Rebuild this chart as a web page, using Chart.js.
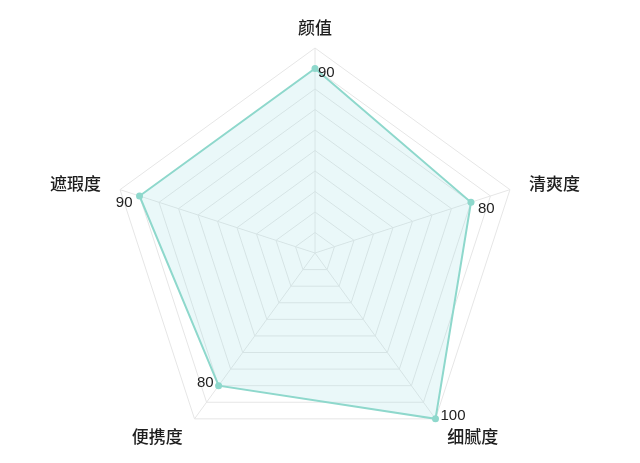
<!DOCTYPE html>
<html lang="zh">
<head>
    <meta charset="UTF-8">
    <title>雷达图</title>
    <script src="https://cdn.jsdelivr.net/npm/chart.js@4.4.1/dist/chart.umd.min.js"></script>
    <style>
        html, body { margin: 0; padding: 0; background: #fff; }
        #radar { display: block; }
    </style>
</head>
<body>
    <canvas id="radar" width="640" height="463"></canvas>
    <script>
        // chart data
        const categories = ["颜值", "清爽度", "细腻度", "便携度", "遮瑕度"];
        const scores = [90, 80, 100, 80, 90];
        const scaleMax = 100;
        const scaleStep = 10;

        const lineColor = "rgb(142, 216, 204)";
        const fillColor = "rgba(150, 220, 225, 0.2)";
        const gridColor = "#e6e6e6";

        // draws the axis names and the value next to each point
        const radarLabels = {
            id: "radarLabels",
            afterDatasetsDraw(chart) {
                const ctx = chart.ctx;
                const scale = chart.scales.r;
                const cx = scale.xCenter;
                const cy = scale.yCenter;
                ctx.save();

                // axis names
                ctx.font = "500 17px 'Noto Sans CJK SC', sans-serif";
                ctx.fillStyle = "#1e1e1e";
                ctx.textBaseline = "middle";
                categories.forEach((name, i) => {
                    const p = scale.getPointPosition(i, scale.drawingArea + 20);
                    let dy = 0;
                    if (Math.abs(p.x - cx) < 1) {
                        ctx.textAlign = "center";
                    } else {
                        ctx.textAlign = p.x > cx ? "left" : "right";
                        if (p.y > cy) dy = 2;
                    }
                    ctx.fillText(name, p.x, p.y + dy);
                });

                // values
                ctx.font = "15px 'Liberation Sans', Arial, sans-serif";
                ctx.fillStyle = "#222";
                const meta = chart.getDatasetMeta(0);
                meta.data.forEach((pt, i) => {
                    let dx, dy;
                    if (Math.abs(pt.x - cx) < 1) {
                        ctx.textAlign = "left";
                        dx = 3; dy = 4;
                    } else {
                        const right = pt.x > cx;
                        ctx.textAlign = right ? "left" : "right";
                        if (pt.y < cy) { dx = 7; dy = 7; } else { dx = 5; dy = -3; }
                        if (!right) dx = -dx;
                    }
                    ctx.fillText(String(scores[i]), pt.x + dx, pt.y + dy);
                });
                ctx.restore();
            }
        };

        new Chart(document.getElementById("radar"), {
            type: "radar",
            data: {
                labels: categories,
                datasets: [{
                    data: scores,
                    borderColor: lineColor,
                    backgroundColor: fillColor,
                    borderWidth: 2,
                    fill: true,
                    pointRadius: 3.5,
                    pointBackgroundColor: lineColor,
                    pointBorderWidth: 0
                }]
            },
            options: {
                responsive: false,
                animation: false,
                layout: { padding: { left: 110, right: 120, top: 48, bottom: 5 } },
                plugins: {
                    legend: { display: false },
                    tooltip: { enabled: false }
                },
                scales: {
                    r: {
                        min: 0,
                        max: scaleMax,
                        ticks: { display: false, stepSize: scaleStep },
                        pointLabels: { display: false },
                        grid: { color: gridColor, lineWidth: 1 },
                        angleLines: { color: gridColor, lineWidth: 1 }
                    }
                }
            },
            plugins: [radarLabels]
        });
    </script>
</body>
</html>
